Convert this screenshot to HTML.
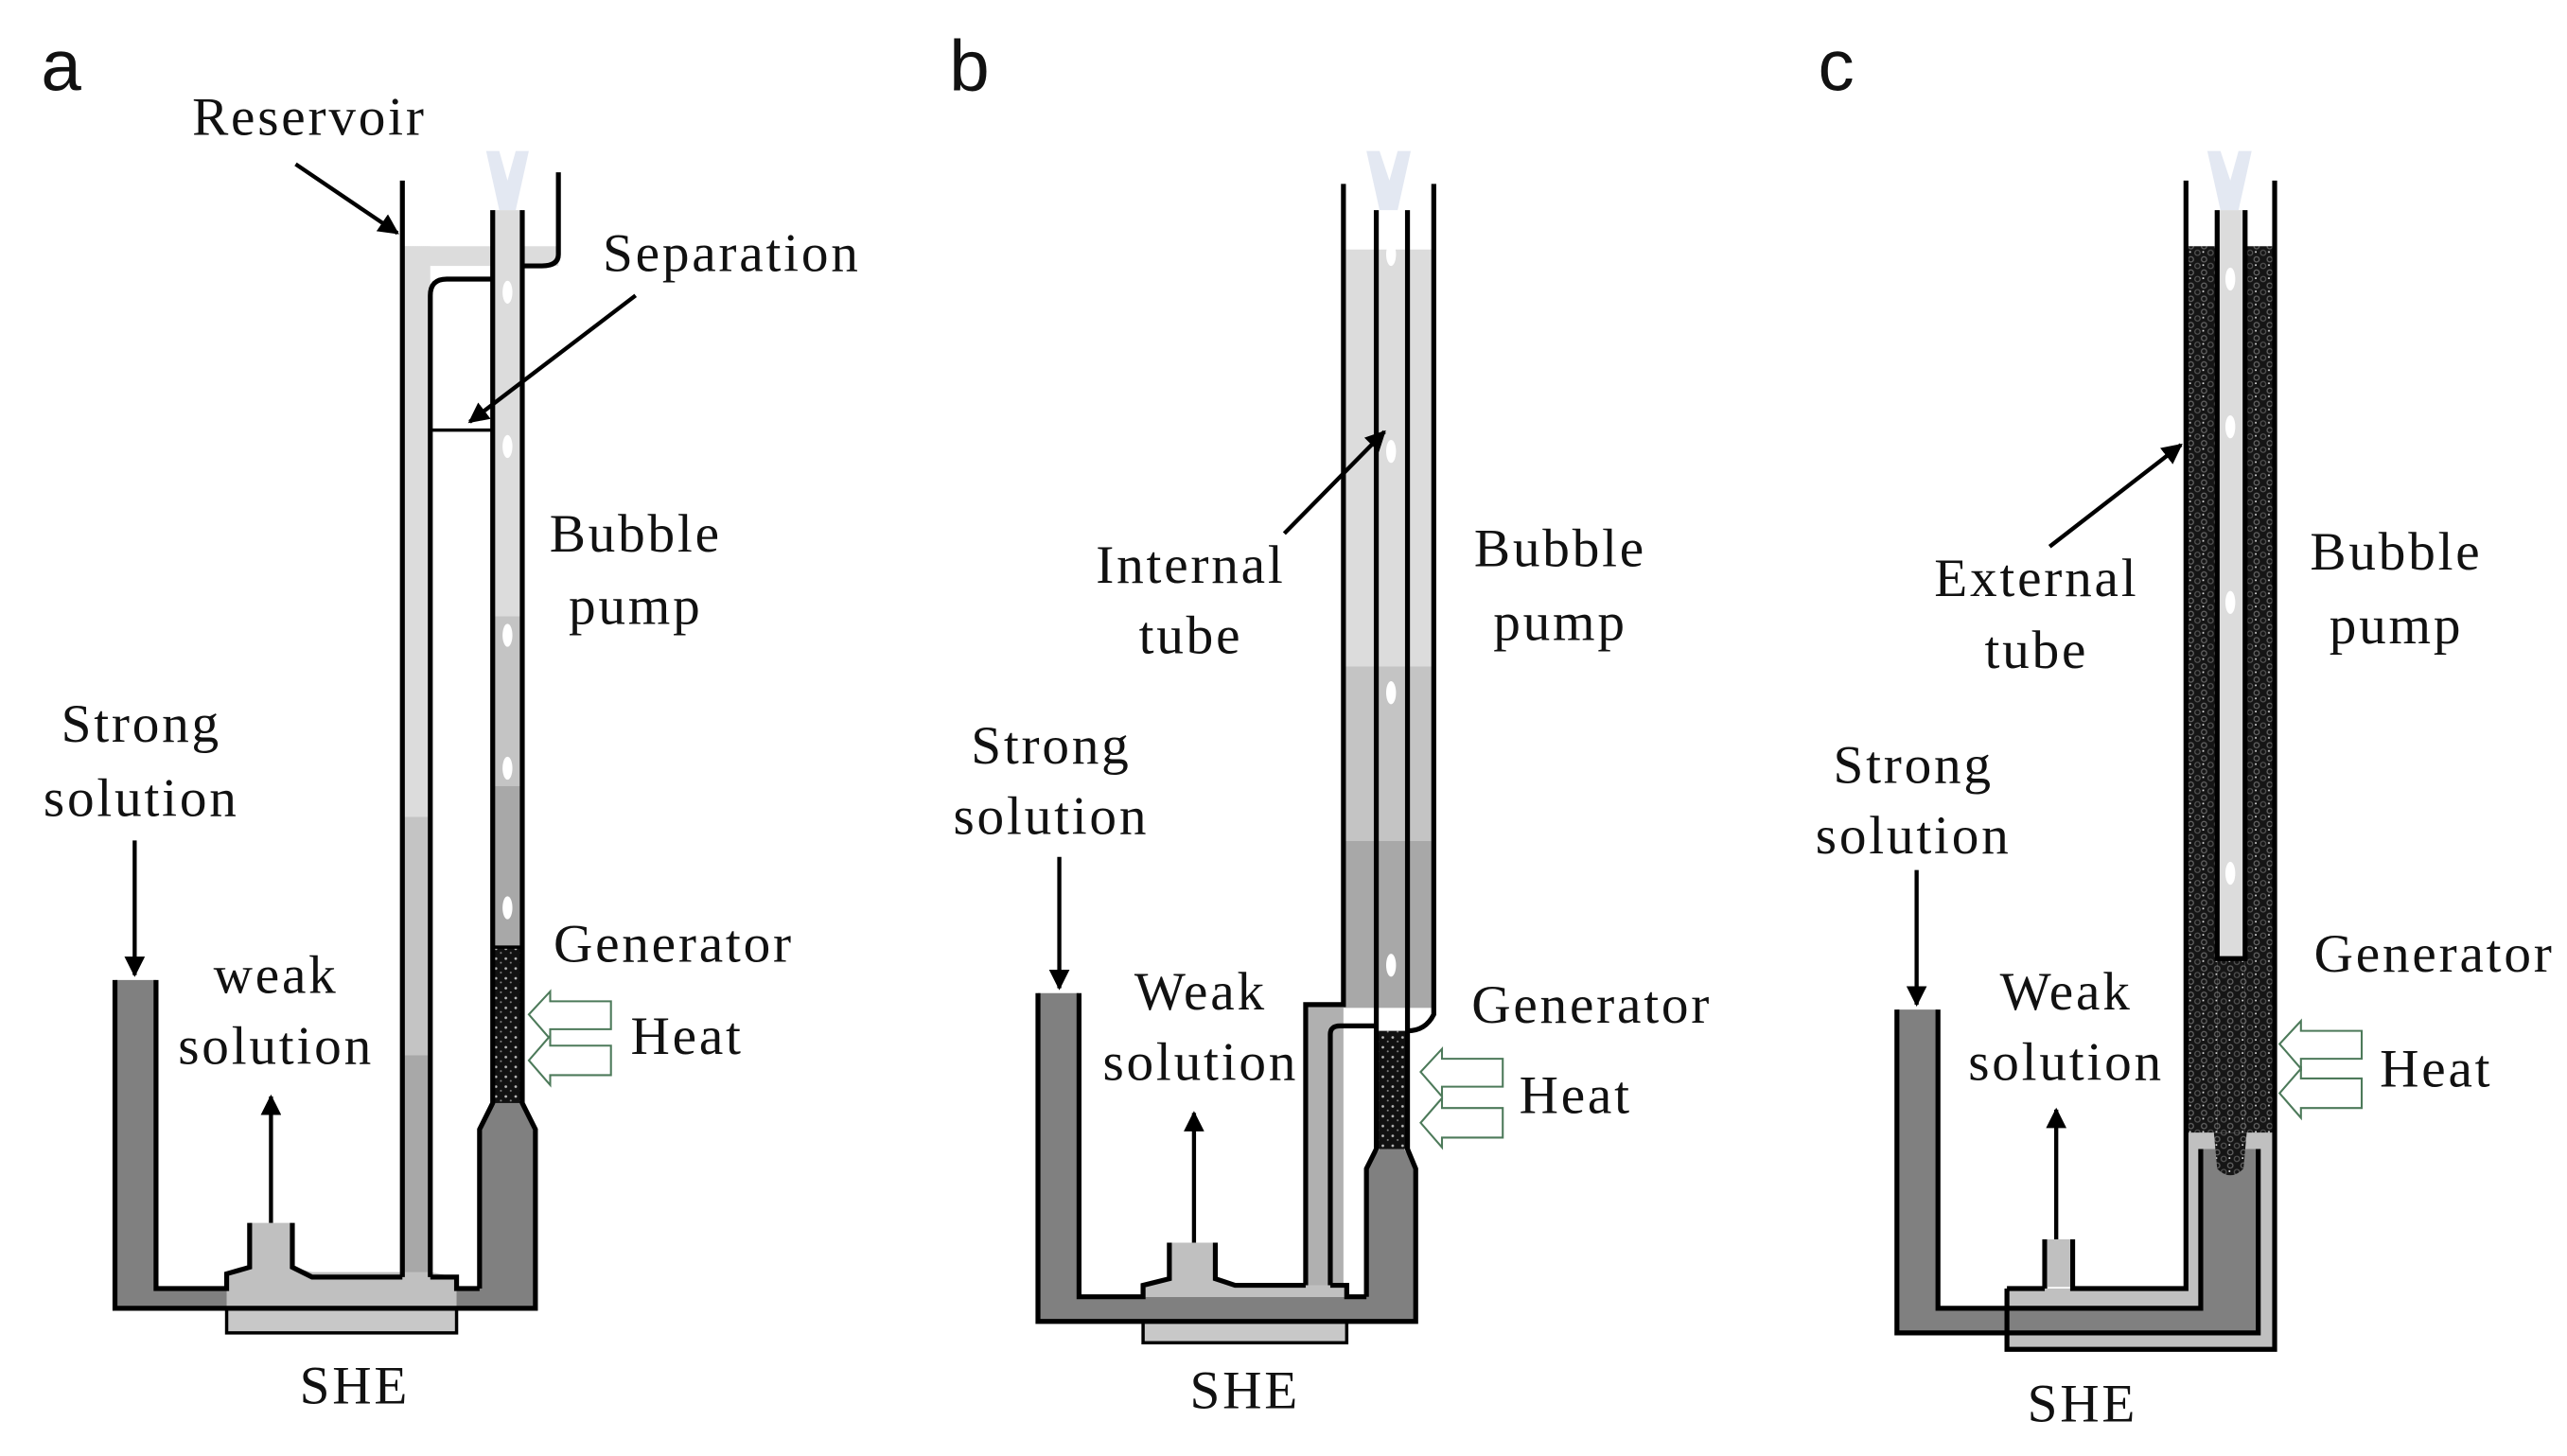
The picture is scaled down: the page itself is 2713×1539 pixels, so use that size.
<!DOCTYPE html>
<html><head><meta charset="utf-8"><style>
html,body{margin:0;padding:0;background:#fff;}
svg{display:block;}
text{font-family:"Liberation Serif",serif;font-size:33px;letter-spacing:1.6px;fill:#111;}
.s{font-family:"Liberation Sans",sans-serif;font-size:44px;letter-spacing:0;}
.m{text-anchor:middle;}
</style></head><body>
<svg width="2713" height="1539" viewBox="0 0 1563 887" preserveAspectRatio="none" xmlns="http://www.w3.org/2000/svg">
<defs>
<linearGradient id="ga" x1="0" y1="0" x2="0" y2="1">
<stop offset="0" stop-color="#dcdcdc"/><stop offset="0.55" stop-color="#dcdcdc"/><stop offset="0.55" stop-color="#c4c4c4"/><stop offset="0.78" stop-color="#c4c4c4"/><stop offset="0.78" stop-color="#a8a8a8"/><stop offset="1" stop-color="#a8a8a8"/>
</linearGradient>
<pattern id="pk" width="6" height="6" patternUnits="userSpaceOnUse">
<rect width="6" height="6" fill="#111"/><circle cx="2" cy="2" r="0.8" fill="#bbb"/><circle cx="5" cy="4.5" r="0.6" fill="#888"/>
</pattern>
<pattern id="pk2" width="8" height="8" patternUnits="userSpaceOnUse">
<rect width="8" height="8" fill="#151515"/><circle cx="2" cy="2" r="1.6" fill="none" stroke="#555" stroke-width="0.7"/><circle cx="6" cy="6" r="1.6" fill="none" stroke="#666" stroke-width="0.7"/><rect x="5" y="1" width="1" height="1" fill="#ddd"/>
</pattern>
<marker id="ar" viewBox="0 0 10 10" refX="9" refY="5" markerWidth="5" markerHeight="5" orient="auto"><path d="M0,0 L10,5 L0,10 z" fill="#000"/></marker>
</defs>

<!-- ============ PANEL A ============ -->
<text class="s" x="25" y="55">a</text>
<rect x="245" y="150" width="95" height="12" fill="#dcdcdc"/>
<rect x="245" y="150" width="17" height="632" fill="url(#ga)"/>
<rect x="300" y="128" width="18" height="450" fill="url(#ga)"/>
<path d="M296,92 L304,92 L309,110 L314,92 L322,92 L314,128 L304,128 z" fill="#e3e8f2"/>
<g fill="#fff"><ellipse cx="309" cy="178" rx="3" ry="7"/><ellipse cx="309" cy="272" rx="3" ry="7"/><ellipse cx="309" cy="387" rx="3" ry="7"/><ellipse cx="309" cy="468" rx="3" ry="7"/><ellipse cx="309" cy="553" rx="3" ry="7"/></g>
<rect x="300" y="577" width="18" height="95" fill="url(#pk)"/>
<path d="M70,597 L95,597 L95,785 L292,785 L292,688 L300,672 L318,672 L326,688 L326,797 L70,797 z" fill="#808080"/>
<rect x="138" y="797" width="140" height="15" fill="#c8c8c8" stroke="#000" stroke-width="2"/>
<path d="M138,785 L138,776 L152,772 L152,745 L178,745 L178,772 L190,775 L245,775 L262,775 L278,778 L278,797 L138,797z" fill="#c0c0c0"/>
<g fill="none" stroke="#000" stroke-width="3">
<path d="M245,110 L245,778"/>
<path d="M262,778 L262,180 Q262,170 272,170 L300,170"/>
<path d="M300,128 L300,672 L292,688 L292,785"/>
<path d="M318,128 L318,672 L326,688 L326,797 L70,797 L70,597"/>
<path d="M95,597 L95,785 L138,785 L138,776 L152,772 L152,745"/>
<path d="M178,745 L178,772 L190,778 L245,778"/>
<path d="M262,778 L278,778 L278,785 L292,785"/>
<path d="M340,105 L340,155 Q340,162 330,162 L318,162"/>
<path d="M262,262 L300,262" stroke-width="2"/>
<path d="M300,577 L318,577" stroke-width="2"/>
</g>
<g stroke="#000" stroke-width="2.5" marker-end="url(#ar)">
<line x1="180" y1="100" x2="242" y2="142"/>
<line x1="387" y1="180" x2="286" y2="257"/>
<line x1="82" y1="512" x2="82" y2="594"/>
<line x1="165" y1="745" x2="165" y2="668"/>
</g>
<g fill="#fff" stroke="#4d7a5a" stroke-width="1.2">
<path d="M372,610 L335,610 L335,604 L322,618 L335,633 L335,627 L372,627z"/>
<path d="M372,637 L335,637 L335,631 L322,646 L335,661 L335,655 L372,655z"/>
</g>
<text x="117" y="82">Reservoir</text>
<text x="367" y="165">Separation</text>
<text class="m" x="387" y="336">Bubble</text>
<text class="m" x="387" y="380">pump</text>
<text class="m" x="86" y="452">Strong</text>
<text class="m" x="86" y="497">solution</text>
<text class="m" x="168" y="605">weak</text>
<text class="m" x="168" y="648">solution</text>
<text x="337" y="586">Generator</text>
<text x="384" y="642">Heat</text>
<text class="m" x="216" y="855">SHE</text>

<!-- ============ PANEL B ============ -->
<text class="s" x="578" y="55">b</text>
<rect x="818" y="152" width="55" height="462" fill="url(#ga)"/>
<rect x="795" y="612" width="23" height="172" fill="#b0b0b0"/>
<path d="M832,92 L840,92 L846,110 L851,92 L859,92 L851,128 L840,128 z" fill="#e3e8f2"/>
<g fill="#fff"><ellipse cx="847" cy="155" rx="3" ry="7"/><ellipse cx="847" cy="275" rx="3" ry="7"/><ellipse cx="847" cy="422" rx="3" ry="7"/><ellipse cx="847" cy="588" rx="3" ry="7"/></g>
<rect x="838" y="628" width="19" height="72" fill="url(#pk)"/>
<path d="M632,605 L657,605 L657,790 L832,790 L832,712 L840,700 L855,700 L862,712 L862,805 L632,805 z" fill="#808080"/>
<rect x="696" y="805" width="124" height="13" fill="#c8c8c8" stroke="#000" stroke-width="2"/>
<path d="M696,790 L696,783 L712,779 L712,757 L740,757 L740,779 L752,783 L820,783 L820,790z" fill="#c0c0c0"/>
<g fill="none" stroke="#000" stroke-width="3">
<path d="M818,112 L818,612 L795,612 L795,783"/>
<path d="M873,112 L873,618 Q868,628 857,628"/>
<path d="M838,128 L838,700 L832,712 L832,790"/>
<path d="M857,128 L857,700 L862,712 L862,805 L632,805 L632,605"/>
<path d="M657,605 L657,790 L696,790 L696,783 L712,779 L712,757"/>
<path d="M740,757 L740,779 L752,783 L795,783"/>
<path d="M810,783 L810,630 Q810,625 816,625 L838,625"/>
<path d="M810,783 L820,783 L820,790 L832,790"/>
</g>
<g stroke="#000" stroke-width="2.5" marker-end="url(#ar)">
<line x1="782" y1="325" x2="843" y2="263"/>
<line x1="645" y1="522" x2="645" y2="602"/>
<line x1="727" y1="757" x2="727" y2="678"/>
</g>
<g fill="#fff" stroke="#4d7a5a" stroke-width="1.2">
<path d="M915,645 L878,645 L878,639 L865,653 L878,668 L878,662 L915,662z"/>
<path d="M915,675 L878,675 L878,669 L865,684 L878,699 L878,693 L915,693z"/>
</g>
<text class="m" x="725" y="355">Internal</text>
<text class="m" x="725" y="398">tube</text>
<text class="m" x="950" y="345">Bubble</text>
<text class="m" x="950" y="390">pump</text>
<text class="m" x="640" y="465">Strong</text>
<text class="m" x="640" y="508">solution</text>
<text class="m" x="731" y="615">Weak</text>
<text class="m" x="731" y="658">solution</text>
<text x="896" y="623">Generator</text>
<text x="925" y="678">Heat</text>
<text class="m" x="758" y="858">SHE</text>

<!-- ============ PANEL C ============ -->
<text class="s" x="1107" y="55">c</text>
<path d="M1222,785 L1331,785 L1331,690 L1385,690 L1385,822 L1222,822z" fill="#c0c0c0"/>
<path d="M1155,615 L1180,615 L1180,797 L1340,797 L1340,700 L1375,700 L1375,812 L1155,812z" fill="#808080"/>
<rect x="1350" y="128" width="17" height="456" fill="#dcdcdc"/>
<path d="M1344,92 L1352,92 L1358,110 L1363,92 L1371,92 L1363,128 L1352,128 z" fill="#e3e8f2"/>
<g fill="#fff"><ellipse cx="1358" cy="170" rx="3" ry="7"/><ellipse cx="1358" cy="260" rx="3" ry="7"/><ellipse cx="1358" cy="367" rx="3" ry="7"/><ellipse cx="1358" cy="532" rx="3" ry="7"/></g>
<rect x="1331" y="150" width="19" height="540" fill="url(#pk2)"/>
<rect x="1367" y="150" width="18" height="540" fill="url(#pk2)"/>
<rect x="1350" y="584" width="17" height="106" fill="url(#pk2)"/>
<path d="M1348,690 L1368,690 L1366,712 Q1358,720 1350,712z" fill="url(#pk2)"/>
<g fill="none" stroke="#000" stroke-width="3">
<path d="M1331,110 L1331,785 L1262,785 L1262,755"/>
<path d="M1385,110 L1385,822 L1222,822 L1222,785"/>
<path d="M1350,128 L1350,584 L1367,584 L1367,128"/>
<path d="M1340,700 L1340,797 L1180,797 L1180,615"/>
<path d="M1375,700 L1375,812 L1155,812 L1155,615"/>
<path d="M1245,785 L1245,755"/>
<path d="M1222,785 L1245,785"/>
</g>
<rect x="1246.5" y="755" width="14" height="29" fill="#c0c0c0"/>
<g stroke="#000" stroke-width="2.5" marker-end="url(#ar)">
<line x1="1248" y1="333" x2="1328" y2="271"/>
<line x1="1167" y1="530" x2="1167" y2="612"/>
<line x1="1252" y1="755" x2="1252" y2="676"/>
</g>
<g fill="#fff" stroke="#4d7a5a" stroke-width="1.2">
<path d="M1438,628 L1401,628 L1401,622 L1388,636 L1401,651 L1401,645 L1438,645z"/>
<path d="M1438,657 L1401,657 L1401,651 L1388,666 L1401,681 L1401,675 L1438,675z"/>
</g>
<text class="m" x="1240" y="363">External</text>
<text class="m" x="1240" y="407">tube</text>
<text class="m" x="1459" y="347">Bubble</text>
<text class="m" x="1459" y="392">pump</text>
<text class="m" x="1165" y="477">Strong</text>
<text class="m" x="1165" y="520">solution</text>
<text class="m" x="1258" y="615">Weak</text>
<text class="m" x="1258" y="658">solution</text>
<text x="1409" y="592">Generator</text>
<text x="1449" y="662">Heat</text>
<text class="m" x="1268" y="866">SHE</text>
</svg>
</body></html>
